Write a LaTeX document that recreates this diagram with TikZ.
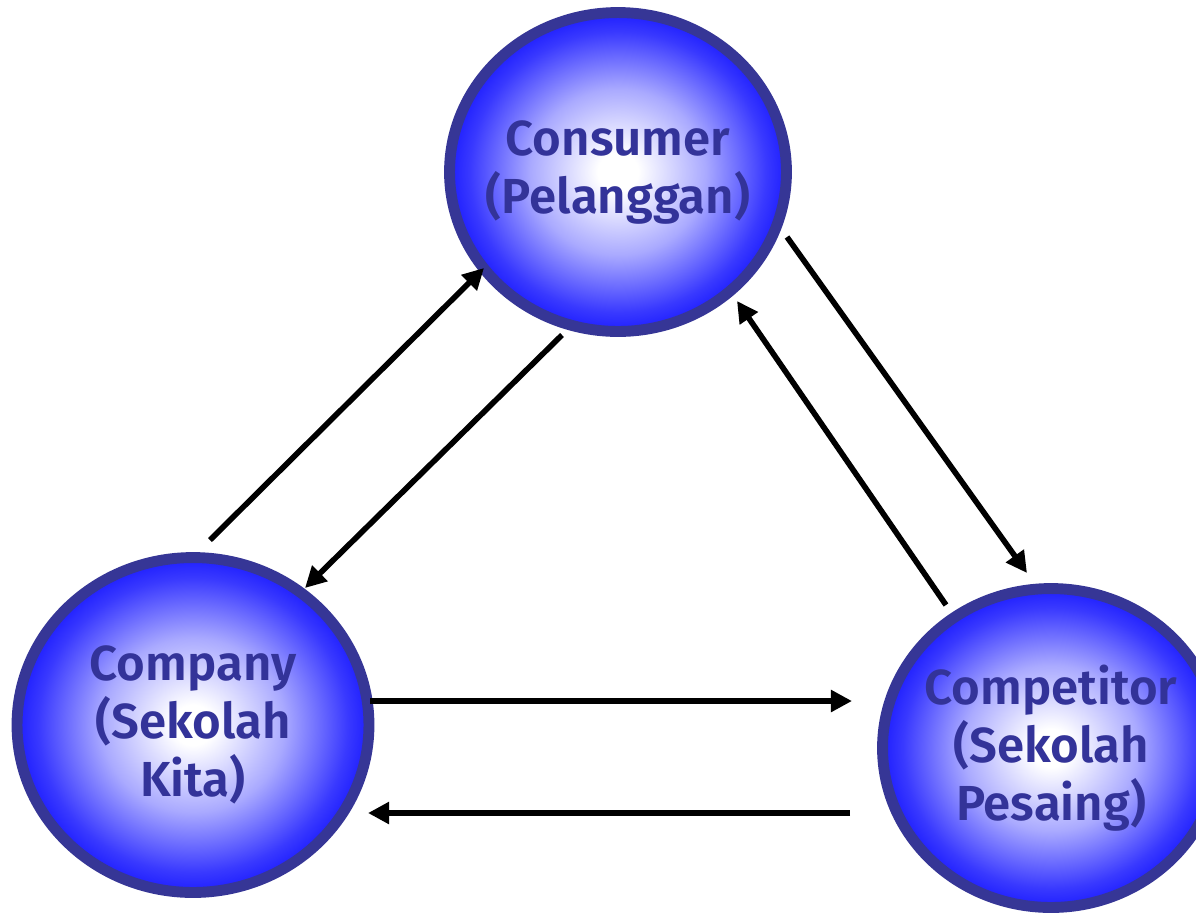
\documentclass[tikz,border=0pt]{standalone}
\usepackage{fontspec}
\setmainfont{Fira Sans}[BoldFont={Fira Sans SemiBold}]
\usetikzlibrary{shapes.geometric,arrows.meta}
\definecolor{rimblue}{HTML}{363696}
\definecolor{textblue}{HTML}{333399}
\definecolor{ballblue}{HTML}{1E1EFF}
\pgfdeclareradialshading{ballshade}{\pgfpoint{0bp}{0bp}}{%
  color(0bp)=(white); color(3bp)=(white); color(13bp)=(ballblue!38!white);
  color(22bp)=(ballblue!88!white); color(25bp)=(ballblue); color(50bp)=(ballblue)}

\begin{document}
\begin{tikzpicture}[x=0.02cm, y=-0.02cm, line cap=butt,
    ball/.style={ellipse, draw=rimblue, line width=6.2pt, shading=ballshade,
      text=textblue, font=\bfseries\fontsize{28}{33}\selectfont,
      align=center, inner xsep=-2cm, inner ysep=0pt},
    flow/.style={-{Triangle[length=12pt,width=12pt]}, line width=3.2pt}]
  \useasboundingbox (0,0) rectangle (1196,914);

  % the three parties
  \node[ball, minimum width=6.74cm, minimum height=6.38cm] (consumer) at (618,172)
    {Consumer\\(Pelanggan)};
  \node[ball, minimum width=7.04cm, minimum height=6.70cm] (company) at (193,725)
    {Company\\(Sekolah\\Kita)};
  \node[ball, minimum width=6.74cm, minimum height=6.38cm] (competitor) at (1051,748)
    {Competitor\\(Sekolah\\Pesaing)};

  % arrow ends
  \coordinate (coA) at (210,540);  \coordinate (cuA) at (484,268);
  \coordinate (cuB) at (562,335);  \coordinate (coB) at (305,588);
  \coordinate (cuC) at (787,237);  \coordinate (cpC) at (1027,573);
  \coordinate (cpD) at (946,605);  \coordinate (cuD) at (737,301);
  \coordinate (coE) at (370,701);  \coordinate (cpE) at (852,701);
  \coordinate (cpF) at (850,813);  \coordinate (coF) at (368,813);

  % company <-> consumer
  \draw[flow] (coA) -- (cuA);
  \draw[flow] (cuB) -- (coB);
  % consumer <-> competitor
  \draw[flow] (cuC) -- (cpC);
  \draw[flow] (cpD) -- (cuD);
  % company <-> competitor
  \draw[flow] (coE) -- (cpE);
  \draw[flow] (cpF) -- (coF);
\end{tikzpicture}
\end{document}
